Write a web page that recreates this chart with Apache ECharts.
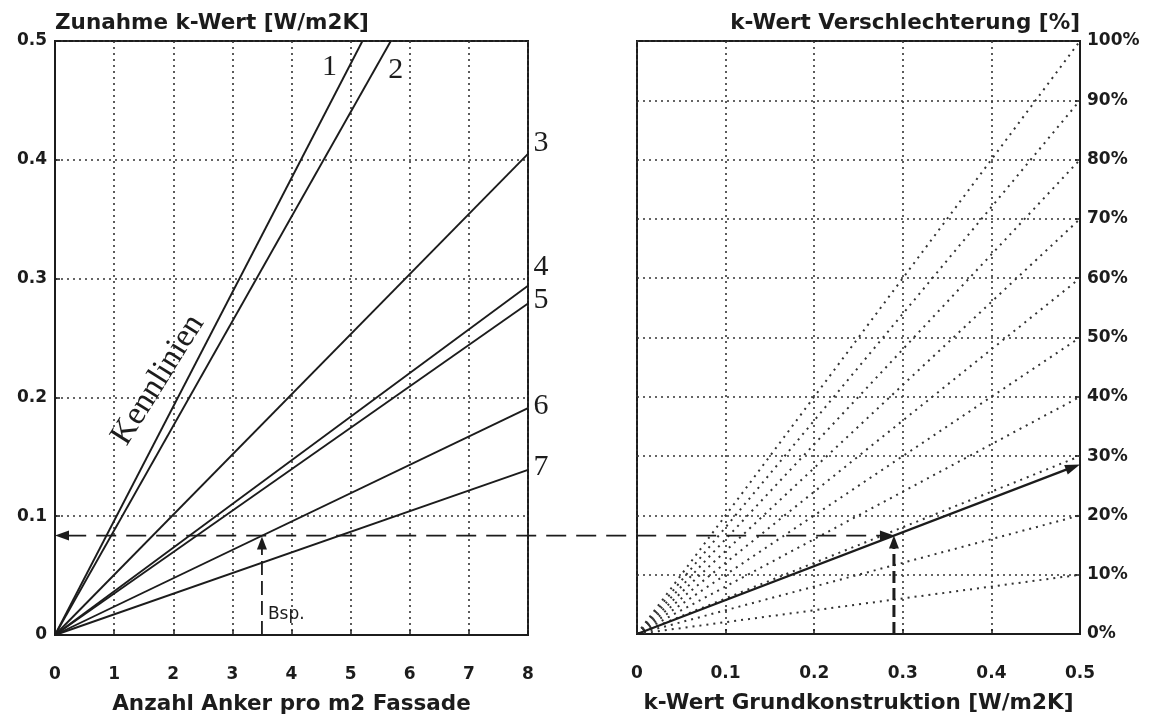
<!DOCTYPE html>
<html><head><meta charset="utf-8">
<script src="https://cdn.jsdelivr.net/npm/echarts@6/dist/echarts.min.js"></script>
<style>html,body{margin:0;padding:0;background:#fff}#c{width:1151px;height:720px}</style>
</head><body><div id="c"></div>
<script>
// ---------- data ----------
const anchorTicks = [0, 1, 2, 3, 4, 5, 6, 7, 8];
const kIncreaseTicks = [0, 0.1, 0.2, 0.3, 0.4, 0.5];
const kBaseTicks = [0, 0.1, 0.2, 0.3, 0.4, 0.5];
const percentTicks = [0, 10, 20, 30, 40, 50, 60, 70, 80, 90, 100];

const curveNames = ['1', '2', '3', '4', '5', '6', '7'];
const curveEndAnchors = [5.2, 5.68, 8, 8, 8, 8, 8];
const curveEndIncrease = [0.5, 0.5, 0.405, 0.294, 0.279, 0.191, 0.139];

const rayPercents = [10, 20, 30, 40, 50, 60, 70, 80, 90, 100];

const exampleAnchors = 3.5;
const exampleIncrease = 0.083;
const exampleBase = 0.29;
const examplePercent = 28.6;

// ---------- styling ----------
const INK = '#1c1c1c';
const GRIDC = '#333';
const FONT = 'DejaVu Sans';
const tickFont = { fontFamily: FONT, fontWeight: 'bold', fontSize: 17, color: INK };
const titleFont = { fontFamily: FONT, fontWeight: 'bold', fontSize: 21.5, color: INK };
const dotted = { color: GRIDC, width: 1.6, type: [2, 4] };

const kMax = kIncreaseTicks[kIncreaseTicks.length - 1];
const pctMax = percentTicks[percentTicks.length - 1];
const exampleIncreasePct = exampleIncrease / kMax * pctMax;

function fmtDec(v) { return v === 0 ? '0' : v.toFixed(1); }

function axisBase(ticks) {
  return {
    type: 'value',
    min: ticks[0], max: ticks[ticks.length - 1], interval: ticks[1] - ticks[0],
    axisLine: { show: true, onZero: false, lineStyle: { color: INK, width: 2 } },
    axisTick: { show: true, inside: true, length: 5, lineStyle: { color: INK, width: 1.5 } },
    splitLine: { show: true, lineStyle: dotted }
  };
}

function arrowSeries(name, xi, yi, data, st) {
  return {
    name: name, type: 'custom', xAxisIndex: xi, yAxisIndex: yi, clip: false, silent: true, z: 5,
    encode: { x: [0, 2], y: [1, 3] },
    data: data,
    renderItem: function (params, api) {
      const p1 = api.coord([api.value(0), api.value(1)]);
      const p2 = api.coord([api.value(2), api.value(3)]);
      const dx = p2[0] - p1[0], dy = p2[1] - p1[1];
      const L = Math.sqrt(dx * dx + dy * dy) || 1;
      const ux = dx / L, uy = dy / L;
      const hl = st.headLen, hw = st.headHalf;
      const children = [];
      let s = [p1[0], p1[1]], e = [p2[0] - ux * hl * 0.8, p2[1] - uy * hl * 0.8];
      if (st.both) s = [p1[0] + ux * hl * 0.8, p1[1] + uy * hl * 0.8];
      children.push({ type: 'line', shape: { x1: s[0], y1: s[1], x2: e[0], y2: e[1] },
        style: { stroke: INK, lineWidth: st.width, lineDash: st.dash || null } });
      function head(tip, dirx, diry) {
        return { type: 'polygon', shape: { points: [
          [tip[0], tip[1]],
          [tip[0] - dirx * hl + (-diry) * hw, tip[1] - diry * hl + dirx * hw],
          [tip[0] - dirx * hl - (-diry) * hw, tip[1] - diry * hl - dirx * hw]
        ] }, style: { fill: INK } };
      }
      children.push(head(p2, ux, uy));
      if (st.both) children.push(head(p1, -ux, -uy));
      return { type: 'group', children: children };
    }
  };
}

const chart = echarts.init(document.getElementById('c'), null, { renderer: 'canvas' });

function buildOption(connectorData) {
  const series = [];
  curveNames.forEach(function (n, i) {
    series.push({
      name: 'Kennlinie ' + n, type: 'line', xAxisIndex: 0, yAxisIndex: 0,
      data: [[0, 0], [curveEndAnchors[i], curveEndIncrease[i]]],
      showSymbol: false, symbol: 'none', silent: true,
      lineStyle: { color: INK, width: 1.9 }
    });
  });
  rayPercents.forEach(function (p) {
    series.push({
      name: 'Strahl ' + p + '%', type: 'line', xAxisIndex: 1, yAxisIndex: 1,
      data: [[0, 0], [kBaseTicks[kBaseTicks.length - 1], p]],
      showSymbol: false, symbol: 'none', silent: true,
      lineStyle: { color: GRIDC, width: 2, type: [2, 5] }
    });
  });
  series.push(arrowSeries('Bsp. vertikal links', 0, 0,
    [[exampleAnchors, 0, exampleAnchors, exampleIncrease]],
    { width: 1.8, dash: [14, 6], headLen: 13, headHalf: 5 }));
  series.push(arrowSeries('Bsp. vertikal rechts', 1, 1,
    [[exampleBase, 0, exampleBase, exampleIncreasePct]],
    { width: 3, dash: [12, 5], headLen: 13, headHalf: 5 }));
  series.push(arrowSeries('Ergebnis', 1, 1,
    [[0, 0, kBaseTicks[kBaseTicks.length - 1], examplePercent]],
    { width: 2.3, headLen: 15, headHalf: 5 }));
  if (connectorData) {
    series.push(arrowSeries('Bsp. horizontal', 1, 1, connectorData,
      { width: 1.8, dash: [20, 10], headLen: 14, headHalf: 5, both: true }));
  }

  const xL = axisBase(anchorTicks);
  xL.gridIndex = 0; xL.position = 'bottom';
  xL.axisLabel = Object.assign({ margin: 31 }, tickFont);
  xL.name = 'Anzahl Anker pro m2 Fassade'; xL.nameLocation = 'middle'; xL.nameGap = 58;
  xL.nameTextStyle = titleFont;

  const yL = axisBase(kIncreaseTicks);
  yL.gridIndex = 0; yL.position = 'left';
  yL.axisLabel = Object.assign({ margin: 8, formatter: fmtDec }, tickFont);
  yL.name = 'Zunahme k-Wert [W/m2K]'; yL.nameLocation = 'end'; yL.nameGap = 7;
  yL.nameTextStyle = Object.assign({ align: 'left' }, titleFont);

  const xR = axisBase(kBaseTicks);
  xR.gridIndex = 1; xR.position = 'bottom';
  xR.axisLabel = Object.assign({ margin: 31, formatter: fmtDec }, tickFont);
  xR.name = 'k-Wert Grundkonstruktion [W/m2K]'; xR.nameLocation = 'middle'; xR.nameGap = 58;
  xR.nameTextStyle = titleFont;

  const yR = axisBase(percentTicks);
  yR.gridIndex = 1; yR.position = 'right';
  yR.axisLabel = Object.assign({ margin: 7, formatter: '{value}%' }, tickFont);
  yR.name = 'k-Wert Verschlechterung [%]'; yR.nameLocation = 'end'; yR.nameGap = 7;
  yR.nameTextStyle = Object.assign({ align: 'right' }, titleFont);

  return {
    backgroundColor: '#fff',
    animation: false,
    grid: [
      { left: 55, top: 41, width: 473, height: 594, show: true, borderColor: INK, borderWidth: 2 },
      { left: 637, top: 41, width: 443, height: 593, show: true, borderColor: INK, borderWidth: 2 }
    ],
    xAxis: [xL, xR],
    yAxis: [yL, yR],
    series: series
  };
}

chart.setOption(buildOption(null));

// connector between the two panels, positioned through both axes
const leftPx = chart.convertToPixel({ gridIndex: 0 }, [0, exampleIncrease]);
const leftInRight = chart.convertFromPixel({ gridIndex: 1 }, leftPx);
chart.setOption(buildOption([[leftInRight[0], exampleIncreasePct, exampleBase, exampleIncreasePct]]));

// annotations
const labelOffsets = [[-33, 26], [5, 29], [13, -11], [13, -19], [13, -3], [13, -2], [13, -3]];
const serif = 'Liberation Serif';
const graphics = [];
curveNames.forEach(function (n, i) {
  const p = chart.convertToPixel({ gridIndex: 0 }, [curveEndAnchors[i], curveEndIncrease[i]]);
  graphics.push({ type: 'text', x: p[0] + labelOffsets[i][0], y: p[1] + labelOffsets[i][1], silent: true,
    style: { text: n, fontFamily: serif, fontSize: 30, fill: INK, align: 'center', verticalAlign: 'middle' } });
});
graphics.push({ type: 'text', x: 158, y: 380, rotation: 58 * Math.PI / 180, silent: true,
  style: { text: 'Kennlinien', fontFamily: serif, fontSize: 33, fill: INK, align: 'center', verticalAlign: 'middle' } });
const bsp = chart.convertToPixel({ gridIndex: 0 }, [exampleAnchors, 0]);
graphics.push({ type: 'text', x: bsp[0] + 6, y: bsp[1] - 20, silent: true,
  style: { text: 'Bsp.', fontFamily: FONT, fontSize: 17, fill: INK, align: 'left', verticalAlign: 'middle' } });
chart.setOption({ graphic: graphics });
</script>
</body></html>
